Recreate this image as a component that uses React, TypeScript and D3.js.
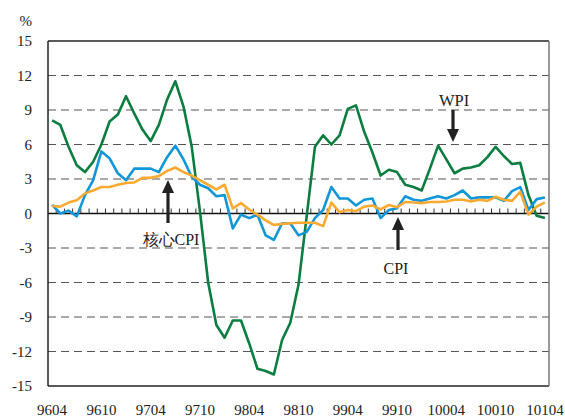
import React from "react";
import * as d3 from "d3";

// monthly categories, ROC year + month
const months = [
  "9604", "9605", "9606", "9607", "9608", "9609", "9610", "9611", "9612",
  "9701", "9702", "9703", "9704", "9705", "9706", "9707", "9708", "9709", "9710", "9711", "9712",
  "9801", "9802", "9803", "9804", "9805", "9806", "9807", "9808", "9809", "9810", "9811", "9812",
  "9901", "9902", "9903", "9904", "9905", "9906", "9907", "9908", "9909", "9910", "9911", "9912",
  "10001", "10002", "10003", "10004", "10005", "10006", "10007", "10008", "10009", "10010", "10011", "10012",
  "10101", "10102", "10103", "10104",
];

const xLabels = ["9604", "9610", "9704", "9710", "9804", "9810", "9904", "9910", "10004", "10010", "10104"];
const yTicks = [15, 12, 9, 6, 3, 0, -3, -6, -9, -12, -15];

const wpi = [
  8.1, 7.7, 5.8, 4.2, 3.6, 4.5, 6.0, 8.0, 8.6, 10.2, 8.7, 7.3, 6.3, 7.7, 9.9, 11.5, 9.3, 5.8, 0.2, -6.0,
  -9.7, -10.8, -9.3, -9.3, -11.3, -13.5, -13.7, -14.0, -11.0, -9.5, -6.2, -0.2, 5.8, 6.8, 6.0, 6.8, 9.1, 9.4, 7.1, 5.3,
  3.3, 3.8, 3.6, 2.5, 2.3, 2.0, 3.9, 5.9, 4.7, 3.5, 3.9, 4.0, 4.2, 4.9, 5.8, 5.0, 4.3, 4.4, 1.6, -0.2,
  -0.4,
];

const cpi = [
  0.75, 0.0, 0.25, -0.25, 1.6, 2.9, 5.4, 4.8, 3.5, 2.9, 3.9, 3.9, 3.9, 3.6, 4.9, 5.9, 4.7, 3.2, 2.5, 2.2,
  1.5, 1.6, -1.3, -0.1, -0.4, -0.1, -1.9, -2.3, -0.85, -0.85, -1.9, -1.6, -0.4, 0.3, 2.3, 1.3, 1.3, 0.7, 1.2, 1.3,
  -0.4, 0.3, 0.45, 1.5, 1.2, 1.1, 1.3, 1.5, 1.3, 1.6, 2.0, 1.3, 1.4, 1.4, 1.4, 1.1, 1.95, 2.3, 0.3, 1.25,
  1.4,
];

const coreCpi = [
  0.65, 0.6, 0.95, 1.15, 1.75, 2.0, 2.3, 2.3, 2.5, 2.65, 2.7, 3.1, 3.1, 3.25, 3.7, 4.0, 3.6, 3.3, 2.9, 2.5,
  2.1, 2.5, 0.45, 0.9, 0.35, -0.1, -0.6, -1.0, -0.9, -0.85, -0.8, -0.8, -0.8, -1.1, 0.95, 0.1, 0.3, 0.2, 0.6, 0.7,
  0.35, 0.74, 0.55, 1.0, 0.95, 0.9, 1.0, 1.0, 1.05, 1.2, 1.2, 1.05, 1.2, 1.1, 1.45, 1.2, 1.1, 1.9, -0.1, 0.6,
  0.97,
];

const W = 565, H = 418;
const left = 48, right = 549, top = 41, bottom = 386;
const FONT = "'Liberation Serif', 'Times New Roman', serif";

export default function App() {
  const x = d3.scaleBand<string>().domain(months).range([left, right]).padding(0);
  const bw = x.bandwidth();
  const cx = (m: string) => (x(m) as number) + bw / 2;
  const y = d3.scaleLinear().domain([-15, 15]).range([bottom, top]);

  const line = d3
    .line<number>()
    .x((_, i) => cx(months[i]))
    .y((d) => y(d));

  const series = [
    { data: wpi, color: "#0b7d40" },
    { data: cpi, color: "#1196d8" },
    { data: coreCpi, color: "#f8aa33" },
  ];

  // arrow: tip point, direction (1 = pointing down, -1 = up), shaft length
  const arrow = (tx: number, ty: number, dir: number, len: number) => {
    const head = 13, hw = 6;
    return (
      <g>
        <line x1={tx} y1={ty - dir * head + dir * 1} x2={tx} y2={ty - dir * len} stroke="#222" strokeWidth={3.2} />
        <path d={`M${tx},${ty} L${tx - hw},${ty - dir * head} L${tx + hw},${ty - dir * head} Z`} fill="#222" />
      </g>
    );
  };

  return (
    <svg width={W} height={H} style={{ position: "absolute", left: 0, top: 0, background: "#fff" }}>
      {/* dashed grid */}
      {yTicks
        .filter((t) => t !== 0 && t !== 15 && t !== -15)
        .map((t) => (
          <line key={t} x1={left} x2={right} y1={y(t)} y2={y(t)} stroke="#555" strokeWidth={1.2} strokeDasharray="8,5" />
        ))}

      {/* zero line with month ticks */}
      <line x1={left} x2={right} y1={y(0)} y2={y(0)} stroke="#111" strokeWidth={1.5} />
      {months.slice(1).map((m) => (
        <line key={m} x1={x(m)} x2={x(m)} y1={y(0)} y2={y(0) - 5} stroke="#333" strokeWidth={1} />
      ))}

      {/* frame */}
      <line x1={left} x2={right} y1={top} y2={top} stroke="#222" strokeWidth={1.5} />
      <line x1={left} x2={right} y1={bottom} y2={bottom} stroke="#222" strokeWidth={1.5} />
      <line x1={left} x2={left} y1={top} y2={bottom} stroke="#222" strokeWidth={1.5} />
      <line x1={right} x2={right} y1={top} y2={bottom} stroke="#777" strokeWidth={1.5} />

      {/* series */}
      {series.map((s, i) => (
        <path key={i} d={line(s.data) || ""} fill="none" stroke={s.color} strokeWidth={2.6} strokeLinejoin="round" />
      ))}

      {/* y axis labels */}
      {yTicks.map((t) => (
        <text key={t} x={32} y={y(t)} dy="0.35em" textAnchor="end" fontFamily={FONT} fontSize={15} fill="#222">
          {t}
        </text>
      ))}
      <text x={32} y={26} textAnchor="end" fontFamily={FONT} fontSize={15} fill="#222">%</text>

      {/* x axis labels */}
      {xLabels.map((m) => (
        <text key={m} x={cx(m)} y={415} textAnchor="middle" fontFamily={FONT} fontSize={15} fill="#222">
          {m}
        </text>
      ))}

      {/* annotations */}
      {arrow(453, 142, 1, 32)}
      <text x={454} y={106} textAnchor="middle" fontFamily={FONT} fontSize={16.5} fill="#222">WPI</text>

      {arrow(168, 180, -1, 43)}
      <text x={171} y={245} textAnchor="middle" fontFamily={FONT} fontSize={16} fill="#222">核心CPI</text>

      {arrow(398, 217, -1, 33)}
      <text x={396} y={274} textAnchor="middle" fontFamily={FONT} fontSize={16} fill="#222">CPI</text>
    </svg>
  );
}
